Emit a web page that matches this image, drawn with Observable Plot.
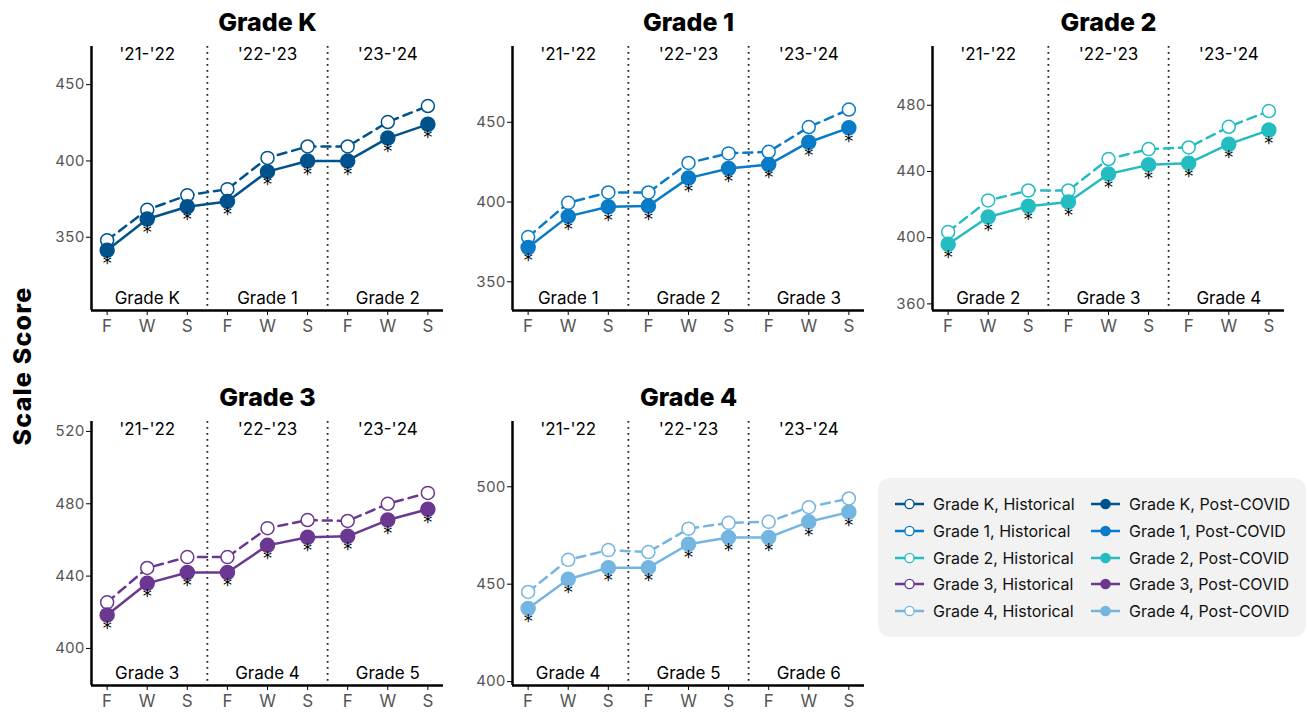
<!DOCTYPE html>
<html><head><meta charset="utf-8">
<script src="https://cdn.jsdelivr.net/npm/d3@7"></script>
<script src="https://cdn.jsdelivr.net/npm/@observablehq/plot@0.6"></script>
<style>
body{margin:0;background:#fff;font-family:Inter,"Noto Sans",sans-serif;}
#wrap{position:relative;width:1309px;height:715px;overflow:hidden;background:#fff;}
.panel{position:absolute;}
.panel svg{overflow:visible;}
g[aria-label="y-axis tick label"]{fill:#555;font-size:15px;}
g[aria-label="x-axis tick label"]{fill:#555;font-size:17px;}
#ylab{position:absolute;left:22px;top:366px;transform:translate(-50%,-50%) rotate(-90deg);font-weight:800;font-size:25px;letter-spacing:1.2px;white-space:nowrap;color:#000;}
#legend{position:absolute;left:878px;top:478px;width:428px;height:159px;background:#f2f2f2;border-radius:12px;}
.li{position:absolute;display:flex;align-items:center;font-size:16px;color:#111;white-space:nowrap;}
.li svg{margin-right:9px;}
</style>
</head><body>
<div id="wrap"><div id="ylab">Scale Score</div><div id="legend"></div></div>
<script>
// ---- data ----
const seasons = ["F","W","S","F","W","S","F","W","S"];
const years = ["'21-'22","'22-'23","'23-'24"];
const panelTitles = ["Grade K","Grade 1","Grade 2","Grade 3","Grade 4"];
const cohortK = ["Grade K","Grade 1","Grade 2"];
const cohort1 = ["Grade 1","Grade 2","Grade 3"];
const cohort2 = ["Grade 2","Grade 3","Grade 4"];
const cohort3 = ["Grade 3","Grade 4","Grade 5"];
const cohort4 = ["Grade 4","Grade 5","Grade 6"];
const histK = [348, 368, 377.5, 381.5, 402, 409.5, 409.5, 425.5, 436];
const postK = [341.5, 362, 370, 373.5, 393, 400, 400, 415, 424];
const hist1 = [378, 399.5, 406, 406, 424.5, 430.5, 431.5, 447, 458];
const post1 = [371.5, 391, 397, 397.5, 415, 421, 423.5, 437.5, 446.5];
const hist2 = [403.5, 422.5, 428.5, 428.5, 447.5, 453.5, 454.5, 467, 476.5];
const post2 = [396, 412.5, 419, 421.5, 438.5, 444, 445, 456.5, 465];
const hist3 = [425.5, 444.5, 450.5, 450.5, 466.5, 471, 470.5, 480, 486];
const post3 = [418.5, 436, 442, 442, 457, 461.5, 462, 471, 477];
const hist4 = [446, 462.5, 467.5, 466.5, 478.5, 481.5, 482, 489.5, 494];
const post4 = [437.5, 452.5, 458.5, 458.5, 470.5, 474, 474, 482, 487];
const ticksK = [350, 400, 450];
const ticks1 = [350, 400, 450];
const ticks2 = [360, 400, 440, 480];
const ticks3 = [400, 440, 480, 520];
const ticks4 = [400, 450, 500];
const colors = ["#00528c", "#0a7bc6", "#25bcc1", "#6b3891", "#74b5e1"];

// ---- layout / scale config ----
const domains = [[302, 475], [332, 497.5], [356, 515.5], [379.5, 525.5], [398, 533.5]];
const panels = [
  {hist: histK, post: postK, cohort: cohortK, ticks: ticksK, left: 41, top: 0},
  {hist: hist1, post: post1, cohort: cohort1, ticks: ticks1, left: 462, top: 0},
  {hist: hist2, post: post2, cohort: cohort2, ticks: ticks2, left: 882, top: 0},
  {hist: hist3, post: post3, cohort: cohort3, ticks: ticks3, left: 41, top: 375},
  {hist: hist4, post: post4, cohort: cohort4, ticks: ticks4, left: 462, top: 375}
];
const wrap = document.getElementById("wrap");
const xDom = [0.61, 9.39];
panels.forEach((p, k) => {
  const color = colors[k];
  const H = p.hist.map((v, i) => ({i: i + 1, v}));
  const P = p.post.map((v, i) => ({i: i + 1, v}));
  const yr = years.map((label, j) => ({x: 2 + 3 * j, label}));
  const co = p.cohort.map((label, j) => ({x: 2 + 3 * j, label}));
  const chart = Plot.plot({
    width: 412, height: 338,
    marginLeft: 50, marginRight: 10, marginTop: 46, marginBottom: 28,
    style: {fontFamily: "Inter, 'Noto Sans', sans-serif", background: "transparent", color: "#000"},
    x: {domain: xDom, ticks: d3.range(1, 10), tickFormat: i => seasons[i - 1]},
    y: {domain: domains[k], ticks: p.ticks},
    marks: [
      Plot.ruleX([3.5, 6.5], {stroke: "#222", strokeWidth: 1.8, strokeDasharray: "1.8,4.2"}),
      Plot.axisY({ticks: p.ticks, tickSize: 5, tickPadding: 2, stroke: "#000", fill: "#555", fontSize: 15, label: null}),
      Plot.axisX({ticks: d3.range(1, 10), tickFormat: i => seasons[i - 1], tickSize: 5, tickPadding: 4, stroke: "#000", fill: "#555", fontSize: 17, label: null}),
      Plot.ruleX([xDom[0]], {stroke: "#000", strokeWidth: 2.5}),
      Plot.ruleY([domains[k][0]], {stroke: "#000", strokeWidth: 2.5}),
      Plot.text(yr, {x: "x", text: "label", frameAnchor: "top", lineAnchor: "middle", dy: 8, fontSize: 17, fill: "#000"}),
      Plot.text(co, {x: "x", text: "label", frameAnchor: "bottom", lineAnchor: "middle", dy: -12, fontSize: 17, fill: "#000"}),
      Plot.text([panelTitles[k]], {x: 5, text: d => d, frameAnchor: "top", lineAnchor: "middle", dy: -24, fontSize: 25, fontWeight: 800, fill: "#000"}),
      Plot.line(H, {x: "i", y: "v", stroke: color, strokeWidth: 2.5, strokeDasharray: "9,6"}),
      Plot.line(P, {x: "i", y: "v", stroke: color, strokeWidth: 2.5}),
      Plot.dot(H, {x: "i", y: "v", r: 6.5, fill: "white", stroke: color, strokeWidth: 1.5}),
      Plot.dot(P, {x: "i", y: "v", r: 7, fill: color, stroke: color}),
      Plot.text(P, {x: "i", y: "v", text: () => "*", dy: 13, fontSize: 18, fill: "#000", fontFamily: "DejaVu Sans"})
    ]
  });
  const div = document.createElement("div");
  div.className = "panel";
  div.style.left = p.left + "px";
  div.style.top = p.top + "px";
  div.style.width = "412px";
  div.appendChild(chart);
  wrap.appendChild(div);
});

// ---- legend ----
const legend = document.getElementById("legend");
panelTitles.forEach((g, k) => {
  ["Historical", "Post-COVID"].forEach((kind, c) => {
    const item = document.createElement("div");
    item.className = "li";
    item.style.left = (c === 0 ? 17 : 213) + "px";
    item.style.top = (26 + k * 26.75 - 10) + "px";
    item.style.height = "20px";
    const fill = kind === "Historical" ? "white" : colors[k];
    item.innerHTML = `<svg width="29" height="12"><line x1="0" x2="29" y1="6" y2="6" stroke="${colors[k]}" stroke-width="2.5"/><circle cx="14.5" cy="6" r="4.6" fill="${fill}" stroke="${colors[k]}" stroke-width="1.4"/></svg><span>${g}, ${kind}</span>`;
    legend.appendChild(item);
  });
});
</script>
</body></html>
